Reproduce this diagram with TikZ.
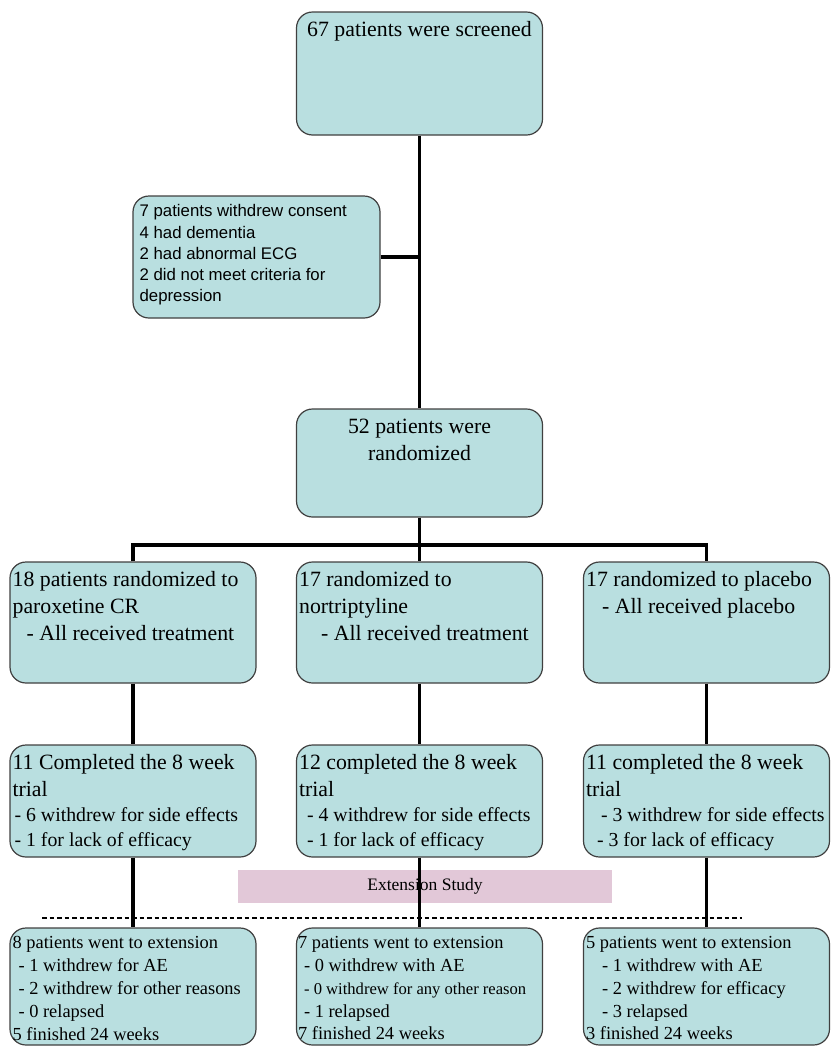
\documentclass[tikz,border=0pt]{standalone}
\usepackage{fontspec}
\setmainfont{Liberation Serif}
\setsansfont{Liberation Sans}

\definecolor{boxfill}{RGB}{185,223,224}
\definecolor{extfill}{RGB}{226,200,216}

\tikzset{
  flowbox/.style={draw=black!75, line width=1.2pt, fill=boxfill, rounded corners=16pt,
    inner sep=0pt, minimum width=246pt},
  boxtext/.style={anchor=north west, align=left, inner sep=0pt},
  bigtext/.style={font=\fontsize{21.8}{27}\selectfont},
  smalltext/.style={font=\fontsize{18.4}{22.8}\selectfont},
  link/.style={line width=3.2pt},
}

\begin{document}
\begin{tikzpicture}[x=1pt,y=-1pt]
    \useasboundingbox (0,0) rectangle (831,1050);

    % boxes
    \node[flowbox, minimum height=123pt] (screen) at (419.5,73.5) {};
    \node[flowbox, minimum width=247pt, minimum height=122pt] (side) at (256.5,257) {};
    \node[flowbox, minimum height=108pt] (random) at (419.5,463) {};
    \foreach \nm/\x in {A/133,B/419.5,C/706.5} {
        \node[flowbox, minimum height=121pt] (arm\nm) at (\x,622.5) {};
        \node[flowbox, minimum height=112pt] (comp\nm) at (\x,801) {};
    }
    \node[fill=extfill, minimum width=374pt, minimum height=33pt, inner sep=0pt,
        font=\fontsize{17.5}{20}\selectfont] (ext) at (425,886.5) {Extension Study};
    \draw[dashed, dash pattern=on 4.5pt off 3pt, line width=1.3pt] (42,918) -- (742,918);
    \foreach \nm/\x in {A/133,B/419.5,C/706.5} {
        \node[flowbox, minimum height=117pt] (ext\nm) at (\x,986.5) {};
    }

    % texts
    \node[boxtext, anchor=north, bigtext] (screentxt) at ([yshift=-10pt]screen.north) {67 patients were screened};
    \node[boxtext, font=\sffamily\fontsize{16.8}{21.3}\selectfont] (sidetxt) at ([xshift=7pt,yshift=-9pt]side.north west)
        {7 patients withdrew consent\\4 had dementia\\2 had abnormal ECG\\2 did not meet criteria for\\depression};
    \node[boxtext, anchor=north, align=center, bigtext] (randomtxt) at ([yshift=-10pt]random.north)
        {52 patients were\\randomized};

    \node[boxtext, bigtext] (armAtxt) at ([xshift=3pt,yshift=-10pt]armA.north west)
        {18 patients randomized to\\paroxetine CR\\\hspace{14pt}- All received treatment};
    \node[boxtext, bigtext] (armBtxt) at ([xshift=3pt,yshift=-10pt]armB.north west)
        {17 randomized to\\nortriptyline\\\hspace{22pt}- All received treatment};
    \node[boxtext, bigtext] (armCtxt) at ([xshift=3pt,yshift=-10pt]armC.north west)
        {17 randomized to placebo\\\hspace{16pt}- All received placebo};

    \node[boxtext, bigtext] (compAtxt) at ([xshift=3pt,yshift=-10pt]compA.north west)
        {11 Completed the 8 week\\trial\\[-2pt]
         {\fontsize{19.8}{26}\selectfont\hspace{2pt}- 6 withdrew for side effects}\\[-2pt]
         {\fontsize{19.8}{26}\selectfont\hspace{2pt}- 1 for lack of efficacy}};
    \node[boxtext, bigtext] (compBtxt) at ([xshift=3pt,yshift=-10pt]compB.north west)
        {12 completed the 8 week\\trial\\[-2pt]
         {\fontsize{19.8}{26}\selectfont\hspace{8pt}- 4 withdrew for side effects}\\[-2pt]
         {\fontsize{19.8}{26}\selectfont\hspace{8pt}- 1 for lack of efficacy}};
    \node[boxtext, bigtext] (compCtxt) at ([xshift=3pt,yshift=-10pt]compC.north west)
        {11 completed the 8 week\\trial\\[-2pt]
         {\fontsize{19.8}{26}\selectfont\hspace{15pt}- 3 withdrew for side effects}\\[-2pt]
         {\fontsize{19.8}{26}\selectfont\hspace{11pt}- 3 for lack of efficacy}};

    \node[boxtext, smalltext] (extAtxt) at ([xshift=3pt,yshift=-9pt]extA.north west)
        {8 patients went to extension\\\hspace{6pt}- 1 withdrew for AE\\\hspace{6pt}- 2 withdrew for other reasons\\\hspace{6pt}- 0 relapsed\\5 finished 24 weeks};
    \node[boxtext, smalltext] (extBtxt) at ([xshift=2pt,yshift=-9pt]extB.north west)
        {7 patients went to extension\\\hspace{6pt}- 0 withdrew with AE\\\hspace{6pt}{\fontsize{16.6}{20}\selectfont- 0 withdrew for any other reason}\\\hspace{6pt}- 1 relapsed\\7 finished 24 weeks};
    \node[boxtext, smalltext] (extCtxt) at ([xshift=3pt,yshift=-9pt]extC.north west)
        {5 patients went to extension\\\hspace{16pt}- 1 withdrew with AE\\\hspace{16pt}- 2 withdrew for efficacy\\\hspace{16pt}- 3 relapsed\\3 finished 24 weeks};

    % connectors
    \coordinate (sidejoin) at (screen.south |- side.east);
    \coordinate (split) at (random.south |- 0,545);
    \draw[link] (screen.south) -- (random.north);
    \draw[link] (side.east) -- (sidejoin);
    \draw[link] (random.south) -- (split);
    \draw[link] (armA.north) |- (split) -| (armC.north);
    \draw[link] (split) -- (armB.north);
    \foreach \nm in {A,B,C} {
        \draw[link] (arm\nm.south) -- (comp\nm.north);
        \draw[link] (comp\nm.south) -- (ext\nm.north);
    }
\end{tikzpicture}
\end{document}
